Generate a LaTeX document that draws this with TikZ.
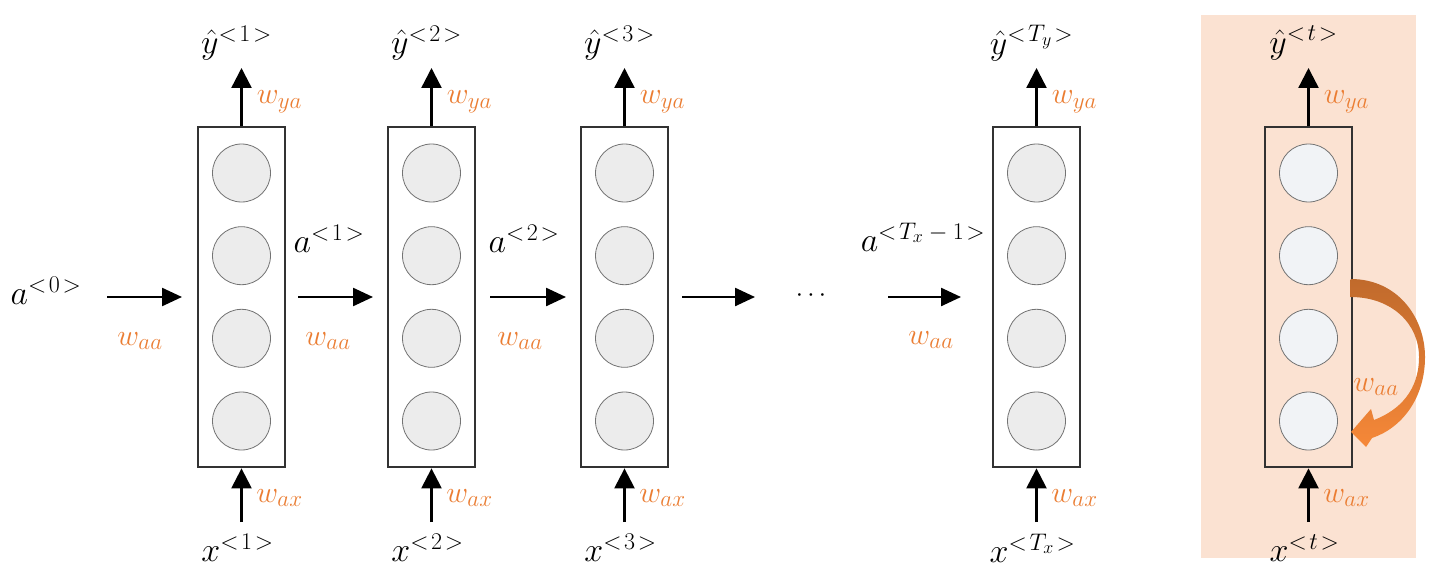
\RequirePackage{fix-cm}
\documentclass[tikz,border=0pt]{standalone}
\usetikzlibrary{arrows.meta}
\DeclareMathSizes{34}{34}{24}{18}
\DeclareMathSizes{30}{30}{23}{17}
\DeclareMathSizes{26}{26}{18}{13}
\definecolor{wOrange}{RGB}{235,125,50}
\definecolor{pinkbg}{RGB}{251,226,210}
\definecolor{unitgray}{RGB}{236,236,236}
\definecolor{unitwhite}{RGB}{241,243,246}
\definecolor{arcTop}{RGB}{192,106,44}
\definecolor{arcBot}{RGB}{246,136,56}
\definecolor{boxline}{RGB}{50,50,50}
\definecolor{unitline}{RGB}{115,115,115}
\tikzset{
  cellbox/.style={draw=boxline,line width=1.4pt,minimum width=87pt,minimum height=340pt,inner sep=0pt},
  unit/.style={circle,draw=unitline,line width=0.8pt,minimum size=58pt,inner sep=0pt},
  varrow/.style={line width=2.4pt,-{Triangle[length=20pt,width=20pt]}},
  harrow/.style={line width=2.4pt,-{Triangle[length=20pt,width=18pt]}},
  blab/.style={inner sep=0pt,font=\fontsize{34}{36}\selectfont},
  wlab/.style={inner sep=0pt,text=wOrange,font=\fontsize{30}{32}\selectfont}
}
\newcommand\angsup[1]{{<}\mkern2mu#1\mkern2mu{>}}
\newcommand\rnncell[5]{%
  \node[cellbox] (#1) at (#2,297) {};
  \foreach \k/\yy in {1/173,2/255.7,3/338.3,4/421}{\node[unit,fill=#5] (#1c\k) at (#2,\yy) {};}
  \coordinate (#1top) at (#2,68);
  \coordinate (#1bot) at (#2,522);
  \draw[varrow] (#1.north) -- (#1top);
  \draw[varrow] (#1bot) -- ([yshift=-0.7pt]#1.south);
  \node[blab,xshift=-5pt] (#1y) at (#2,43) {$\hat{y}^{#3}$};
  \node[blab,xshift=-4pt] (#1x) at (#2,548) {$x^{#4}$};
  \node[wlab,xshift=38pt] (#1wya) at (#2,102) {$w_{ya}$};
  \node[wlab,xshift=38pt] (#1wax) at (#2,498) {$w_{ax}$};
}
\begin{document}
\begin{tikzpicture}[x=1pt,y=-1pt]
\useasboundingbox (0,0) rectangle (1447,567);
\fill[white] (0,0) rectangle (1447,567);
\fill[pinkbg] (1201,15) rectangle (1416,558);

\rnncell{b1}{241.5}{\angsup{1}}{\angsup{1}}{unitgray}
\rnncell{b2}{431.5}{\angsup{2}}{\angsup{2}}{unitgray}
\rnncell{b3}{624.5}{\angsup{3}}{\angsup{3}}{unitgray}
\rnncell{b4}{1036.5}{\angsup{T_y}}{\angsup{T_x}}{unitgray}
\rnncell{b5}{1308.5}{\angsup{t}}{\angsup{t}}{unitwhite}

% horizontal connectors
\coordinate (h1s) at (107,297); \coordinate (h1e) at (182,297);
\coordinate (h2s) at (298,297); \coordinate (h2e) at (373,297);
\coordinate (h3s) at (490,297); \coordinate (h3e) at (566,297);
\coordinate (h4s) at (682,297); \coordinate (h4e) at (755,297);
\coordinate (h5s) at (888,297); \coordinate (h5e) at (961,297);
\draw[harrow] (h1s) -- (h1e);
\draw[harrow] (h2s) -- (h2e);
\draw[harrow] (h3s) -- (h3e);
\draw[harrow] (h4s) -- (h4e);
\draw[harrow] (h5s) -- (h5e);

\node[blab] (a0) at (46,291) {$a^{\angsup{0}}$};
\node[blab] (a1) at (329,239) {$a^{\angsup{1}}$};
\node[blab] (a2) at (524,239) {$a^{\angsup{2}}$};
\node[blab] (aT) at (923,237) {$a^{<\mkern2mu T_x\mkern4mu-\mkern4mu1\mkern2mu>}$};
\node[font=\fontsize{26}{28}\selectfont,inner sep=0pt] (dots) at (811,296) {$\cdots$};

\node[wlab] (waa1) at (140,341) {$w_{aa}$};
\node[wlab] (waa2) at (328,341) {$w_{aa}$};
\node[wlab] (waa3) at (520,341) {$w_{aa}$};
\node[wlab] (waa4) at (931,340) {$w_{aa}$};

% recurrent loop arrow
\shade[top color=arcTop,bottom color=arcBot]
  (1350.5,279) .. controls (1398,279) and (1425,318) .. (1425,357)
  .. controls (1425,398) and (1402,428) .. (1372,438)
  -- (1366,447) -- (1351,432) -- (1371,409) -- (1374,420)
  .. controls (1400,410) and (1419,390) .. (1419,357)
  .. controls (1419,324) and (1392,297) .. (1350.5,297) -- cycle;
\node[wlab] (waa5) at (1376,387) {$w_{aa}$};
\end{tikzpicture}
\end{document}
